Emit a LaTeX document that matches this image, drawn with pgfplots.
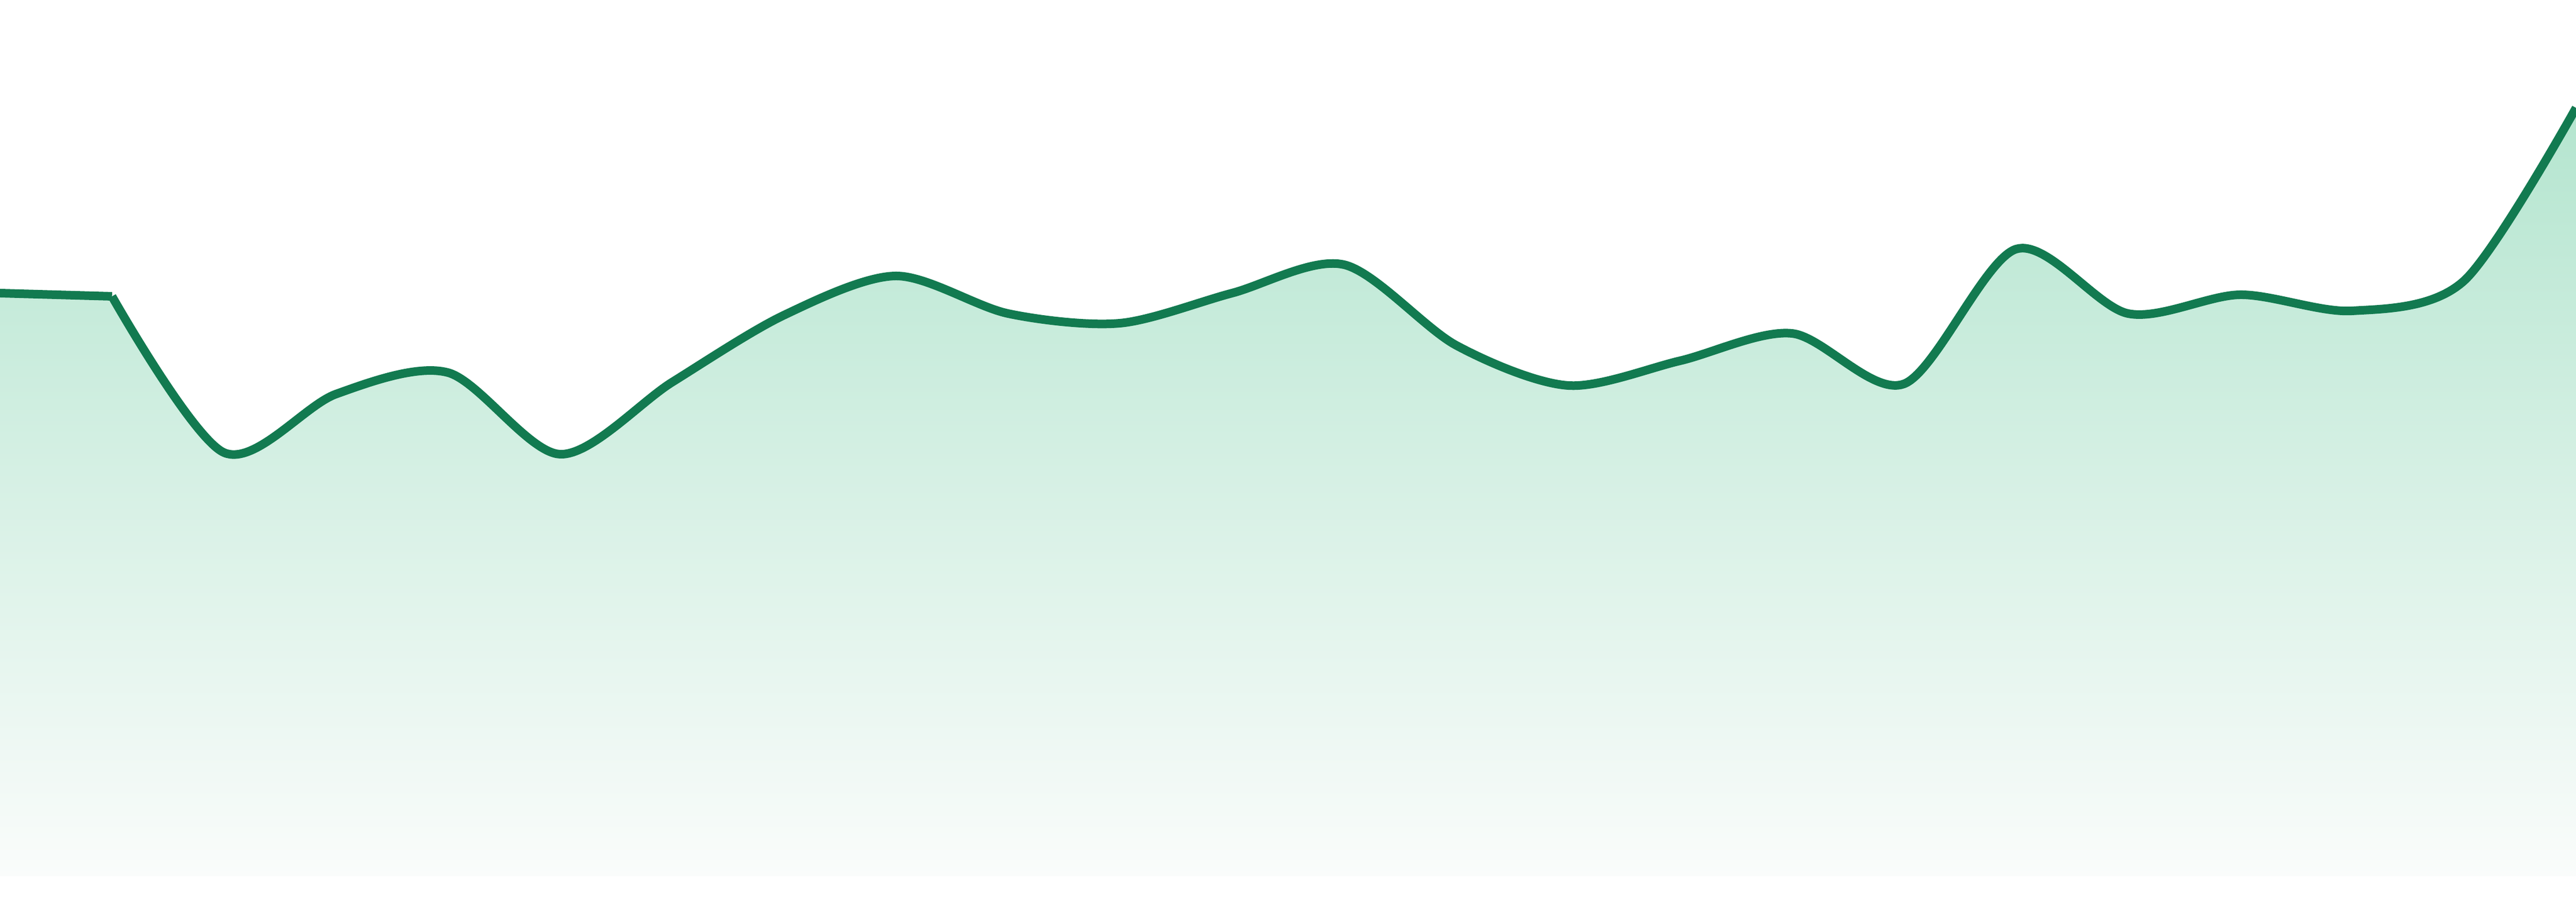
\documentclass[border=0pt]{standalone}
\usepackage{pgfplots}
\usepackage{pgfplotstable}
\pgfplotsset{compat=1.18}

\definecolor{lineGreen}{RGB}{18,122,80}
\definecolor{fillTop}{RGB}{180,229,207}
\definecolor{fillBottom}{RGB}{250,252,251}

% one series, 24 points (values in picture units, 0 = bottom of the fill)
\pgfplotstableread{
x  y
0  1086
1  1080
2  789
3  898
4  938
5  786
6  920
7  1045
8  1118
9  1048
10 1030
11 1086
12 1139
13 989
14 914
15 960
16 1011
17 917
18 1168
19 1048
20 1083
21 1053
22 1109
23 1431
}\series

\begin{document}
\begin{tikzpicture}
  \begin{axis}[
      name=ax,
      at={(0,0)}, anchor=south west,
      width=480pt, height=168pt,
      scale only axis,
      hide axis,
      xmin=0, xmax=23,
      ymin=-48, ymax=1632,
      area/.style={draw=none, top color=fillTop, bottom color=fillBottom},
      curve/.style={lineGreen, line width=1.6pt, line join=round},
    ]
    % gradient area: first step is almost flat, the rest is smooth
    % (the empty move to the top value keeps both shadings on the same scale)
    \addplot[area, sharp plot, restrict x to domain=0:1]
      table[x=x, y=y] {\series} \closedcycle (1,1431);
    \addplot[area, smooth, tension=0.5, restrict x to domain=1:23]
      table[x=x, y=y] {\series} \closedcycle;
    % the line
    \addplot[curve, sharp plot, restrict x to domain=0:1]
      table[x=x, y=y] {\series};
    \addplot[curve, smooth, tension=0.5, restrict x to domain=1:23]
      table[x=x, y=y] {\series};
  \end{axis}
  \pgfresetboundingbox
  \path[use as bounding box] (ax.south west) rectangle (ax.north east);
\end{tikzpicture}
\end{document}
